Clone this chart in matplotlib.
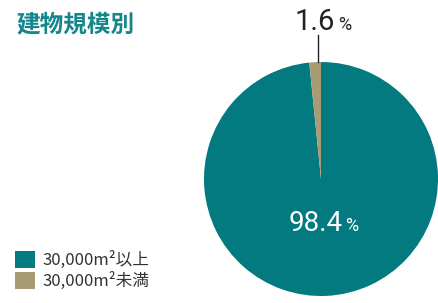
import matplotlib
matplotlib.use("Agg")
import matplotlib.pyplot as plt

plt.rcParams["font.family"] = ["Noto Sans CJK JP", "DejaVu Sans"]

title = "建物規模別"
labels = ["30,000m²以上", "30,000m²未満"]
shares = [98.4, 1.6]
colors = ["#037a80", "#a99c74"]

W, H = 439, 303
fig = plt.figure(figsize=(W / 100, H / 100), dpi=100)

# pie: centre (321, 179), radius 117 px
cx, cy, r = 321, 179, 117
ax = fig.add_axes([(cx - r) / W, (H - cy - r) / H, 2 * r / W, 2 * r / H])
wedges, _ = ax.pie(shares, colors=colors, startangle=90, counterclock=False,
                   radius=1.0, wedgeprops=dict(linewidth=0))
ax.set_xlim(-1, 1)
ax.set_ylim(-1, 1)
ax.set_aspect("equal")
ax.axis("off")

# big label inside
ax.text(0.19, -0.38, f"{shares[0]}", color="white", fontsize=20,
        family="Roboto", ha="right", va="center")
ax.text(0.21, -0.40, "%", color="white", fontsize=13,
        family="Roboto", ha="left", va="center")

# small slice label with leader line
ax.plot([-0.026, -0.026], [1.0, 1.23], color="#222222", lw=1, clip_on=False)
ax.text(0.12, 1.34, f"{shares[1]}", color="#222222", fontsize=21,
        family="Roboto", ha="right", va="center")
ax.text(0.145, 1.32, "%", color="#222222", fontsize=13,
        family="Roboto", ha="left", va="center")

fig.text(16 / W, 1 - 24 / H, title, color="#14868c", fontsize=17,
         fontweight="bold", ha="left", va="center")

fig.legend(wedges, labels, loc="lower left", bbox_to_anchor=(12 / W, 10 / H),
           frameon=False, fontsize=12, handlelength=1.2, handleheight=1.2,
           handletextpad=0.45, labelspacing=0.15, labelcolor="#333333",
           borderaxespad=0.0, borderpad=0.2)

fig.savefig("out.png", dpi=100)
